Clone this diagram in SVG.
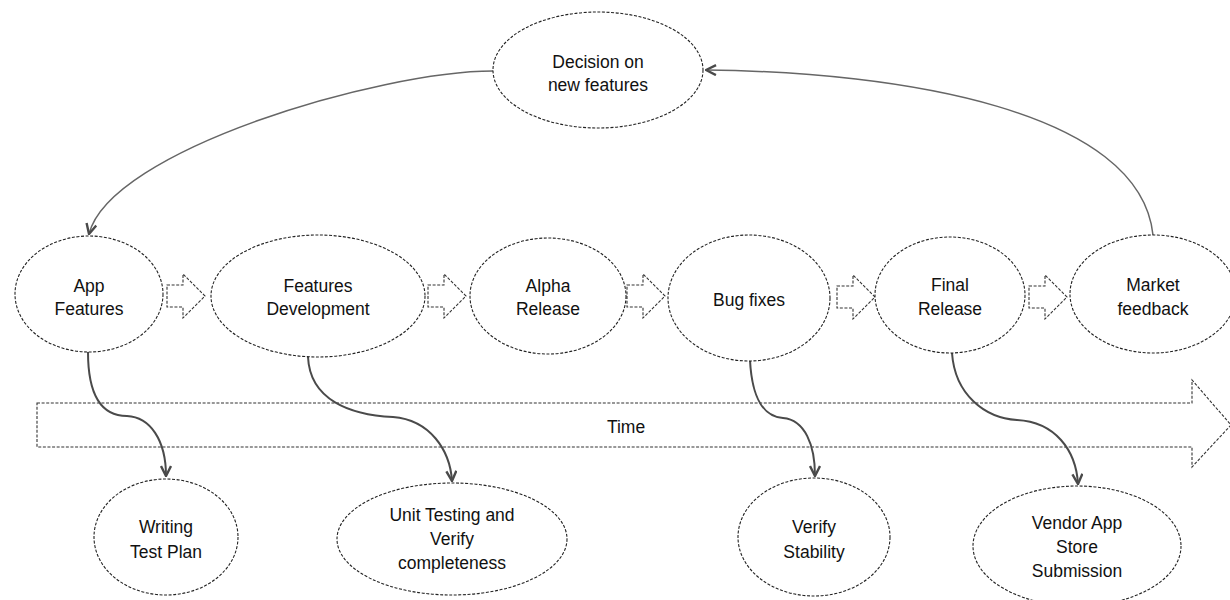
<svg xmlns="http://www.w3.org/2000/svg" width="1230" height="600" viewBox="0 0 1230 600">
<style>
.n{fill:#fff;stroke:#222;stroke-width:1.1;stroke-dasharray:3 1.6}
.t{font-family:"Liberation Sans",Arial,sans-serif;font-size:17.5px;fill:#111;text-anchor:middle}
.c{fill:none;stroke:#4a4a4a;stroke-width:2}
.ct{fill:none;stroke:#666;stroke-width:1.5}
.h{fill:#fff;stroke:#333;stroke-width:1.1;stroke-dasharray:3 1.6}
</style>
<defs>
<marker id="v" viewBox="0 0 12 12" refX="11" refY="6" markerWidth="12" markerHeight="12" markerUnits="userSpaceOnUse" orient="auto">
<path d="M1,1 L11,6 L1,11" fill="none" stroke="#4a4a4a" stroke-width="2.4"/>
</marker>
<path id="ha" d="M0,-11 L16,-11 L16,-22 L38,0 L16,22 L16,11 L0,11 Z"/>
</defs>
<rect width="1230" height="600" fill="#fff"/>
<g id="time">
<path class="h" d="M37,403 L1192,403 L1192,380 L1231,425 L1192,467 L1192,447 L37,447 Z"/>
<text class="t" x="626" y="433">Time</text>
</g>
<g id="flow-arrows">
<use href="#ha" class="h" x="167" y="296"/>
<use href="#ha" class="h" x="428" y="296"/>
<use href="#ha" class="h" x="627" y="296"/>
<use href="#ha" class="h" x="837" y="297"/>
<use href="#ha" class="h" x="1029" y="297"/>
</g>
<g id="connectors">
<path class="ct" d="M493,71 C380,71 110,150 89,234" marker-end="url(#v)"/>
<path class="ct" d="M1153,235 C1140,110 900,72 706,70" marker-end="url(#v)"/>
<path class="c" d="M88,352 C88,400 105,416 127,416 C150,417 166,440 166,476" marker-end="url(#v)"/>
<path class="c" d="M308,357 C310,400 350,415 393,417 C430,420 450,450 452,481" marker-end="url(#v)"/>
<path class="c" d="M750,360 C752,400 765,417 783,418 C805,420 815,445 815,476" marker-end="url(#v)"/>
<path class="c" d="M952,353 C955,395 985,418 1017,420 C1055,422 1076,450 1078,484" marker-end="url(#v)"/>
</g>
<g id="decision">
<ellipse class="n" cx="598" cy="70" rx="105" ry="58"/>
<text class="t" x="598" y="68">Decision on</text>
<text class="t" x="598" y="91">new features</text>
</g>
<g id="app-features">
<ellipse class="n" cx="89" cy="294" rx="74" ry="58"/>
<text class="t" x="89" y="292">App</text>
<text class="t" x="89" y="315">Features</text>
</g>
<g id="features-development">
<ellipse class="n" cx="318" cy="296" rx="107" ry="61"/>
<text class="t" x="318" y="292">Features</text>
<text class="t" x="318" y="315">Development</text>
</g>
<g id="alpha-release">
<ellipse class="n" cx="548" cy="296" rx="78" ry="58"/>
<text class="t" x="548" y="292">Alpha</text>
<text class="t" x="548" y="315">Release</text>
</g>
<g id="bug-fixes">
<ellipse class="n" cx="749" cy="298" rx="81" ry="63"/>
<text class="t" x="749" y="306">Bug fixes</text>
</g>
<g id="final-release">
<ellipse class="n" cx="950" cy="295" rx="75" ry="58"/>
<text class="t" x="950" y="291">Final</text>
<text class="t" x="950" y="315">Release</text>
</g>
<g id="market-feedback">
<ellipse class="n" cx="1153" cy="294" rx="83" ry="59"/>
<text class="t" x="1153" y="291">Market</text>
<text class="t" x="1153" y="315">feedback</text>
</g>
<g id="writing-test-plan">
<ellipse class="n" cx="166" cy="537" rx="72" ry="58"/>
<text class="t" x="166" y="533">Writing</text>
<text class="t" x="166" y="558">Test Plan</text>
</g>
<g id="unit-testing">
<ellipse class="n" cx="452" cy="539" rx="115" ry="56"/>
<text class="t" x="452" y="521">Unit Testing and</text>
<text class="t" x="452" y="545">Verify</text>
<text class="t" x="452" y="569">completeness</text>
</g>
<g id="verify-stability">
<ellipse class="n" cx="814" cy="537" rx="76" ry="59"/>
<text class="t" x="814" y="533">Verify</text>
<text class="t" x="814" y="558">Stability</text>
</g>
<g id="vendor-submission">
<ellipse class="n" cx="1077" cy="546" rx="104" ry="60"/>
<text class="t" x="1077" y="529">Vendor App</text>
<text class="t" x="1077" y="553">Store</text>
<text class="t" x="1077" y="577">Submission</text>
</g>
</svg>
